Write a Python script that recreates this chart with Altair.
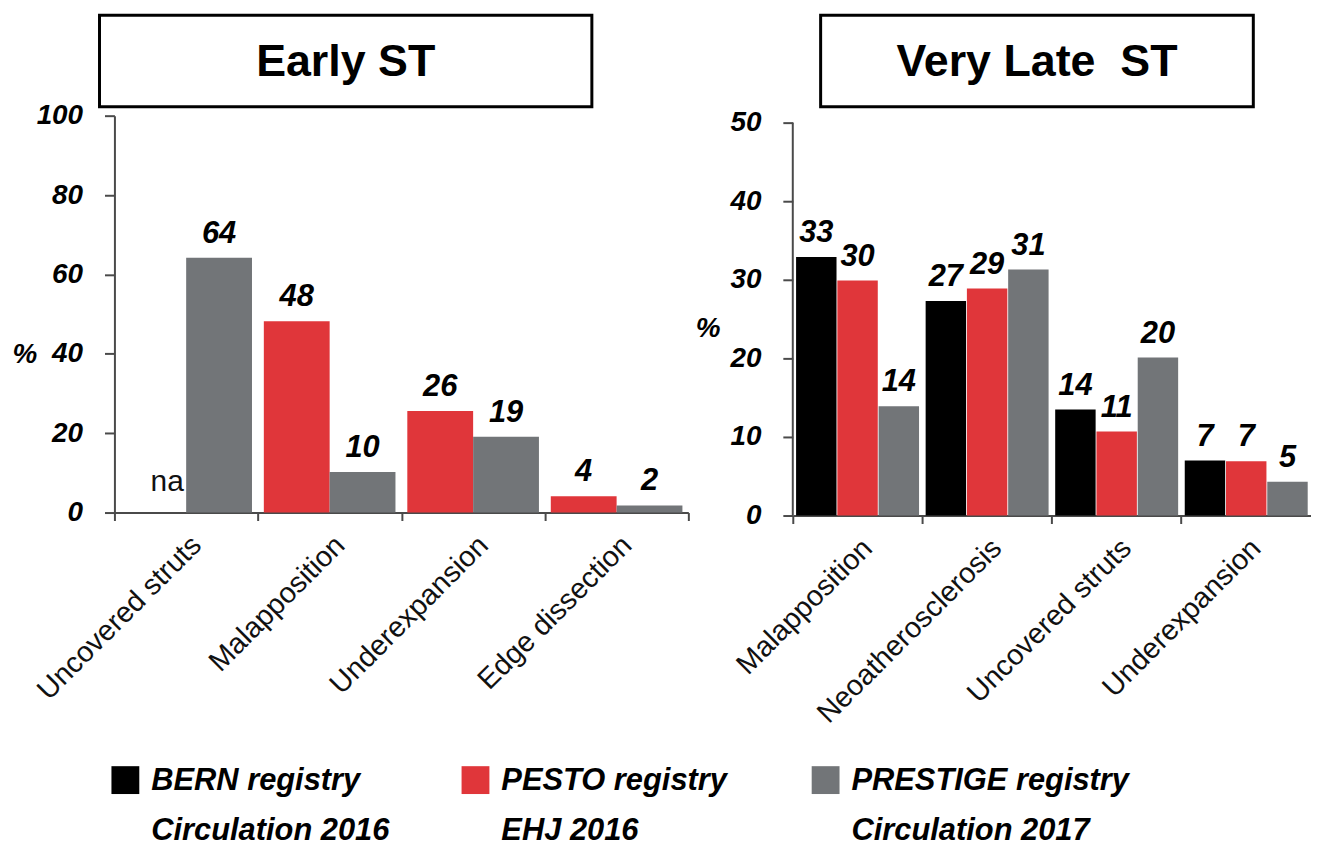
import altair as alt
import pandas as pd

FONT = "Liberation Sans"
AX = "#4a4a4a"

registries = ["BERN registry", "PESTO registry", "PRESTIGE registry"]
journals = ["Circulation 2016", "EHJ 2016", "Circulation 2017"]
colors = ["#000000", "#e0363a", "#727578"]

panel_titles = ["Early ST", "Very Late\u00a0 ST"]

early_causes = ["Uncovered struts", "Malapposition", "Underexpansion", "Edge dissection"]
early_pesto = [None, 48.2, 25.6, 4.1]
early_prestige = [64.2, 10.2, 19.1, 1.8]
early_pesto_labels = ["na", "48", "26", "4"]
early_prestige_labels = ["64", "10", "19", "2"]

late_causes = ["Malapposition", "Neoatherosclerosis", "Uncovered struts", "Underexpansion"]
late_bern = [32.9, 27.3, 13.5, 7.0]
late_pesto = [29.9, 28.9, 10.7, 6.9]
late_prestige = [13.9, 31.3, 20.1, 4.3]
late_bern_labels = ["33", "27", "14", "7"]
late_pesto_labels = ["30", "29", "11", "7"]
late_prestige_labels = ["14", "31", "20", "5"]

early_ticks = [0, 20, 40, 60, 80, 100]
late_ticks = [0, 10, 20, 30, 40, 50]


def rows(causes, series):
    out = []
    for reg, vals, labs in series:
        for c, v, l in zip(causes, vals, labs):
            out.append({"cause": c, "registry": reg, "value": v, "label": l})
    return pd.DataFrame(out)


early_df = rows(early_causes, [(registries[1], early_pesto, early_pesto_labels),
                               (registries[2], early_prestige, early_prestige_labels)])
late_df = rows(late_causes, [(registries[0], late_bern, late_bern_labels),
                             (registries[1], late_pesto, late_pesto_labels),
                             (registries[2], late_prestige, late_prestige_labels)])

color = alt.Color("registry:N", scale=alt.Scale(domain=registries, range=colors), legend=None)

num_style = dict(font=FONT, fontSize=31, fontStyle="italic", fontWeight="bold", color="#000")
noview = alt.ViewBackground(strokeWidth=0, strokeOpacity=0)


def panel(df, causes, regs, ticks, ymax, W, H, title, box, pct_xy, xpad, right_panel=False):
    xaxis = alt.Axis(title=None, labelAngle=-45, labelFont=FONT, labelFontSize=29,
                     labelColor="#111", tickSize=8, tickWidth=2, tickColor=AX,
                     domainColor=AX, domainWidth=2, labelLimit=600,
                     labelPadding=10, labelOverlap=False,
                     **({"bandPosition": 0} if right_panel else {"tickBand": "extent"}))
    x = alt.X("cause:N", sort=causes, scale=alt.Scale(paddingInner=0, paddingOuter=0), axis=xaxis)
    xo = alt.XOffset("registry:N", sort=regs,
                     scale=alt.Scale(domain=regs, paddingOuter=xpad[0], paddingInner=xpad[1]))
    y = alt.Y("value:Q", scale=alt.Scale(domain=[0, ymax], nice=False),
              axis=alt.Axis(values=ticks, grid=False, title="%", titleAngle=0,
                            titleX=pct_xy[0], titleY=pct_xy[1], titleAlign="left",
                            titleBaseline="middle", titleFont=FONT, titleFontSize=28,
                            titleFontStyle="italic", titleFontWeight="bold", titleColor="#000",
                            labelFont=FONT, labelFontSize=28, labelFontStyle="italic",
                            labelFontWeight="bold", labelColor="#000", labelPadding=22,
                            tickSize=10, tickWidth=2, tickColor=AX,
                            domain=not right_panel, domainColor=AX, domainWidth=2))
    bars = alt.Chart(df).transform_filter("datum.value != null").mark_bar().encode(
        x=x, xOffset=xo, y=y, color=color)
    labels = alt.Chart(df).transform_filter("datum.value != null").mark_text(
        dy=-15, baseline="alphabetic", **num_style).encode(
        x=x, xOffset=xo, y=y, text="label:N")
    layers = [bars, labels]
    if df["value"].isna().any():
        na = alt.Chart(df).transform_filter("datum.value == null").transform_calculate(
            value="0").mark_text(dy=-22, dx=14, baseline="alphabetic", font=FONT,
                                 fontSize=30, color="#111").encode(
            x=x, xOffset=xo, y=y, text="label:N")
        layers.append(na)
    tdf = pd.DataFrame({"title": [title]})
    rect = alt.Chart(tdf).mark_rect(fill="white", stroke="#000", strokeWidth=3).encode(
        x=alt.value(box[0]), x2=alt.value(box[1]), y=alt.value(box[2]), y2=alt.value(box[3]))
    ttl = alt.Chart(tdf).mark_text(font=FONT, fontSize=45, fontWeight="bold",
                                   baseline="middle", align="center", color="#000").encode(
        x=alt.value((box[0] + box[1]) / 2), y=alt.value((box[2] + box[3]) / 2 + 1),
        text="title:N")
    layers += [rect, ttl]
    if right_panel:
        yline = alt.Chart(tdf).mark_rule(stroke=AX, strokeWidth=2).encode(
            x=alt.value(0), y=alt.value(H - 395), y2=alt.value(H))
        layers.append(yline)
    return alt.layer(*layers).properties(width=W, height=H, view=noview)


left = panel(early_df, early_causes, registries[1:], early_ticks, 100, 577, 399,
             panel_titles[0], (-15, 480, -101, -9), (-103, 240), (0.09, 0.0))
right = panel(late_df, late_causes, registries, late_ticks, 50 * 402 / 395, 521, 402,
              panel_titles[1], (28, 463, -101, -9), (-98, 214), (0.08, 0.02),
              right_panel=True)

leg_df = pd.DataFrame({"registry": registries,
                       "text": [r + "\n" + j for r, j in zip(registries, journals)]})
lx = alt.X("registry:N", scale=alt.Scale(type="point", domain=registries, range=[11, 715],
                                         padding=0), axis=None)
leg_sq = alt.Chart(leg_df).mark_square(size=784, opacity=1).encode(
    x=lx, y=alt.value(51), color=color)
leg_tx = alt.Chart(leg_df).mark_text(align="left", baseline="alphabetic", dx=26,
                                     lineBreak="\n", lineHeight=50, font=FONT, fontSize=31,
                                     fontStyle="italic", fontWeight="bold",
                                     color="#000").encode(
    x=lx, y=alt.value(61), text="text:N")
legend = alt.layer(leg_sq, leg_tx).properties(width=1100, height=90, view=noview)

top = alt.hconcat(left, right, spacing=6).resolve_scale(
    x="independent", xOffset="independent", y="independent")
chart = alt.vconcat(top, legend, spacing=0).resolve_scale(x="independent").properties(
    padding={"left": 4, "top": 3, "right": 0, "bottom": 0}
).configure(font=FONT).configure_view(strokeWidth=0, strokeOpacity=0)

chart.save("out.html", embed_options={"renderer": "svg", "actions": False})
